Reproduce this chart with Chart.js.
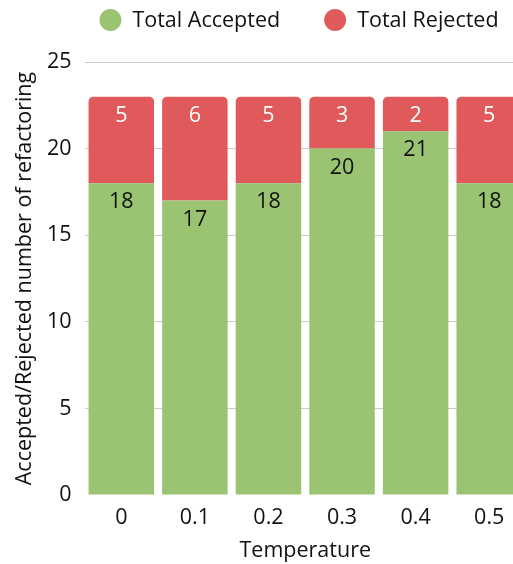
<!DOCTYPE html>
<html>
<head>
<meta charset="utf-8">
<script src="https://cdn.jsdelivr.net/npm/chart.js@4.4.1/dist/chart.umd.min.js"></script>
<style>
  html, body { margin: 0; padding: 0; background: #ffffff; overflow: hidden; }
  #wrap { width: 526px; height: 564px; }
</style>
</head>
<body>
<div id="wrap"><canvas id="chart" width="526" height="564"></canvas></div>
<script>
// Temperature settings and refactoring outcomes per setting
const temperatures = ['0', '0.1', '0.2', '0.3', '0.4', '0.5'];
const acceptedCounts = [18, 17, 18, 20, 21, 18];
const rejectedCounts = [5, 6, 5, 3, 2, 5];
const seriesNames = ['Total Accepted', 'Total Rejected'];
const yTicks = [0, 5, 10, 15, 20, 25];

const GREEN = '#9AC372';
const RED = '#E05A5B';
const TEXT = '#111111';
const FONT = '"Open Sans", "Noto Sans", sans-serif';
const SIZE = 21.5;

// Writes each segment's value just below the top edge of its bar
const barValueLabels = {
  id: 'barValueLabels',
  afterDatasetsDraw(chart) {
    const ctx = chart.ctx;
    ctx.save();
    ctx.font = SIZE + 'px ' + FONT;
    ctx.textAlign = 'center';
    ctx.textBaseline = 'middle';
    chart.data.datasets.forEach((ds, di) => {
      const meta = chart.getDatasetMeta(di);
      meta.data.forEach((bar, i) => {
        ctx.fillStyle = di === 0 ? TEXT : '#ffffff';
        ctx.fillText(String(ds.data[i]), bar.x, bar.y + 19);
      });
    });
    ctx.restore();
  }
};

// Legend row with round markers, drawn above the plot
const topLegend = {
  id: 'topLegend',
  afterDraw(chart) {
    const ctx = chart.ctx;
    ctx.save();
    ctx.font = SIZE + 'px ' + FONT;
    ctx.textBaseline = 'middle';
    ctx.textAlign = 'left';
    const cy = 20, r = 11, gapMarkerText = 11, gapItems = 44;
    const widths = chart.data.datasets.map(ds => 2 * r + gapMarkerText + ctx.measureText(ds.label).width);
    const total = widths.reduce((a, b) => a + b, 0) + gapItems * (widths.length - 1);
    let x = 299 - total / 2;
    chart.data.datasets.forEach((ds, i) => {
      ctx.fillStyle = ds.backgroundColor;
      ctx.beginPath();
      ctx.arc(x + r, cy, r, 0, Math.PI * 2);
      ctx.fill();
      ctx.fillStyle = TEXT;
      ctx.fillText(ds.label, x + 2 * r + gapMarkerText, cy + 1);
      x += widths[i] + gapItems;
    });
    ctx.restore();
  }
};

new Chart(document.getElementById('chart'), {
  type: 'bar',
  data: {
    labels: temperatures,
    datasets: [
      {
        label: seriesNames[0],
        data: acceptedCounts,
        backgroundColor: GREEN,
        borderWidth: 0,
        borderRadius: 0
      },
      {
        label: seriesNames[1],
        data: rejectedCounts,
        backgroundColor: RED,
        borderWidth: 0,
        borderRadius: { topLeft: 5, topRight: 5, bottomLeft: 0, bottomRight: 0 },
        borderSkipped: false
      }
    ]
  },
  options: {
    responsive: false,
    animation: false,
    devicePixelRatio: 1,
    layout: { padding: { top: 62, left: 0, right: 0, bottom: 0 } },
    categoryPercentage: 1.0,
    barPercentage: 0.89,
    plugins: {
      legend: { display: false },
      tooltip: { enabled: false }
    },
    scales: {
      x: {
        stacked: true,
        grid: { display: false, drawTicks: false },
        border: { display: false },
        ticks: { color: TEXT, font: { family: FONT, size: SIZE }, padding: 10 },
        title: {
          display: true,
          text: 'Temperature',
          color: TEXT,
          font: { family: FONT, size: SIZE },
          padding: { top: 4, bottom: 0 }
        },
        afterFit(scale) { scale.height = 69; }
      },
      y: {
        stacked: true,
        min: 0,
        max: 25,
        afterBuildTicks(scale) { scale.ticks = yTicks.map(v => ({ value: v })); },
        grid: {
          color: (c) => (c.tick && c.tick.value === 0 ? 'rgba(0,0,0,0)' : '#cccccc'),
          lineWidth: 1,
          drawTicks: false
        },
        border: { display: false },
        ticks: { color: TEXT, font: { family: FONT, size: SIZE }, padding: 13 },
        title: {
          display: true,
          text: 'Accepted/Rejected number of refactoring',
          color: TEXT,
          font: { family: FONT, size: SIZE },
          padding: { top: 12, bottom: 0 }
        },
        afterFit(scale) { scale.width = 84.5; }
      }
    }
  },
  plugins: [barValueLabels, topLegend]
});
</script>
</body>
</html>
